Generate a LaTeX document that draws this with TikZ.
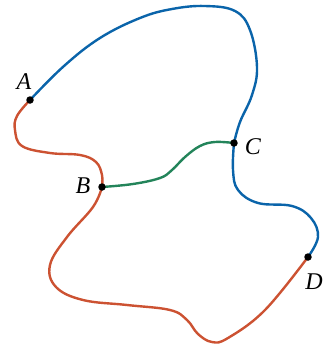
\documentclass[tikz,border=0pt]{standalone}
\usepackage{fontspec}
\setmainfont{Liberation Serif}
\definecolor{cblue}{HTML}{0A64AA}
\definecolor{cred}{HTML}{CC5232}
\definecolor{cgreen}{HTML}{23845A}
\tikzset{
  curve/.style={line width=2.4pt, line cap=round, line join=round},
  pt/.style={circle, fill=black, inner sep=0pt, minimum size=7.5pt},
  lbl/.style={font=\fontsize{24}{24}\selectfont\itshape, inner sep=0pt}
}
\begin{document}
\begin{tikzpicture}[x=1pt,y=-1pt]
\useasboundingbox (0,0) rectangle (333,349);
\coordinate (A) at (30,100);
\coordinate (B) at (102,187);
\coordinate (C) at (234,143);
\coordinate (D) at (308,257);
\draw[curve, cblue] plot[smooth, tension=0.65] coordinates {(A) (64,66) (100,38) (140,18) (172,9) (205,6) (235,11) (250,30) (257,67) (252,95) (240,122) (C)};
\draw[curve, cgreen] plot[smooth, tension=0.65] coordinates {(B) (133,184) (160,178) (172,170) (185,157) (200,146) (215,142) (C)};
\draw[curve, cred] plot[smooth, tension=0.65] coordinates {(A) (17,116) (15,130) (22,146) (50,153) (80,155) (96,162) (102,175) (B)};
\draw[curve, cred] plot[smooth, tension=0.65] coordinates {(B) (93,207) (67,237) (50,265) (56,287) (83,300) (127,305) (170,310) (187,320) (198,334) (212,342) (228,338) (265,310) (D)};
\draw[curve, cblue] plot[smooth, tension=0.65] coordinates {(C) (233,170) (238,190) (258,203) (292,206) (311,218) (318,237) (D)};
\node[pt] (nA) at (A) {};
\node[pt] (nB) at (B) {};
\node[pt] (nC) at (C) {};
\node[pt] (nD) at (D) {};
\node[lbl] (lA) at (24,82) {A};
\node[lbl] (lB) at (83,186) {B};
\node[lbl] (lC) at (253,147) {C};
\node[lbl] (lD) at (314,282) {D};
\end{tikzpicture}
\end{document}
